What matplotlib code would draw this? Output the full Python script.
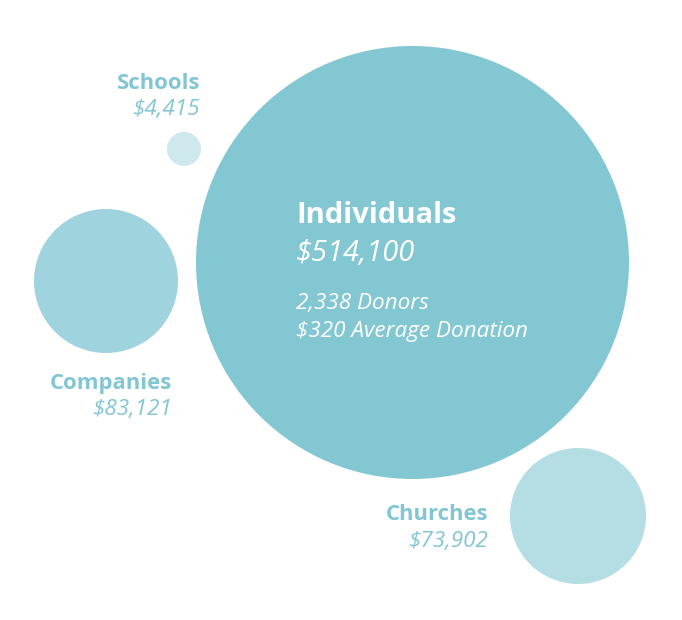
import matplotlib
matplotlib.use("Agg")
import matplotlib.pyplot as plt
from matplotlib.patches import Circle

plt.rcParams["font.family"] = ["Open Sans", "DejaVu Sans"]

# data
categories = ["Individuals", "Companies", "Schools", "Churches"]
amounts = [514100, 83121, 4415, 73902]
donors = 2338
avg_donation = 320

# layout in pixels (x, y from top-left, radius)
centers = {"Individuals": (412.5, 262.5), "Companies": (106, 281),
           "Schools": (184, 149), "Churches": (578, 516)}
radii = {"Individuals": 216.5, "Companies": 72, "Schools": 17, "Churches": 68}
colors = {"Individuals": "#83C7D3", "Companies": "#9FD3DE",
          "Schools": "#CFE8ED", "Churches": "#B5DDE4"}
# label anchor: right edge x, baseline of name, baseline of amount
labels = {"Schools": (200, 89, 115.5), "Companies": (172, 389, 415),
          "Churches": (488, 520, 546.5)}
text_color = "#82C6D3"

fig = plt.figure(figsize=(6.82, 6.20), dpi=100)
ax = fig.add_axes([0, 0, 1, 1])
ax.set_xlim(0, 682)
ax.set_ylim(620, 0)
ax.set_aspect("equal")
ax.axis("off")

for cat in categories:
    ax.add_patch(Circle(centers[cat], radii[cat], color=colors[cat], lw=0))

for cat, amt in zip(categories, amounts):
    if cat in labels:
        x, y1, y2 = labels[cat]
        ax.text(x, y1, cat, ha="right", va="baseline", fontsize=15.9,
                fontweight="bold", color=text_color)
        ax.text(x, y2, "${:,}".format(amt), ha="right", va="baseline",
                fontsize=16.2, style="italic", color=text_color)

# main bubble text
ax.text(296, 223, categories[0], ha="left", va="baseline", fontsize=21,
        fontweight="bold", color="white")
ax.text(296, 261, "${:,}".format(amounts[0]), ha="left", va="baseline",
        fontsize=21, style="italic", color="white")
ax.text(296, 309, "{:,} Donors".format(donors), ha="left", va="baseline",
        fontsize=16.2, style="italic", color="white")
ax.text(296, 336.5, "${} Average Donation".format(avg_donation), ha="left",
        va="baseline", fontsize=16.2, style="italic", color="white")

fig.savefig("out.png", dpi=100, facecolor="white")
